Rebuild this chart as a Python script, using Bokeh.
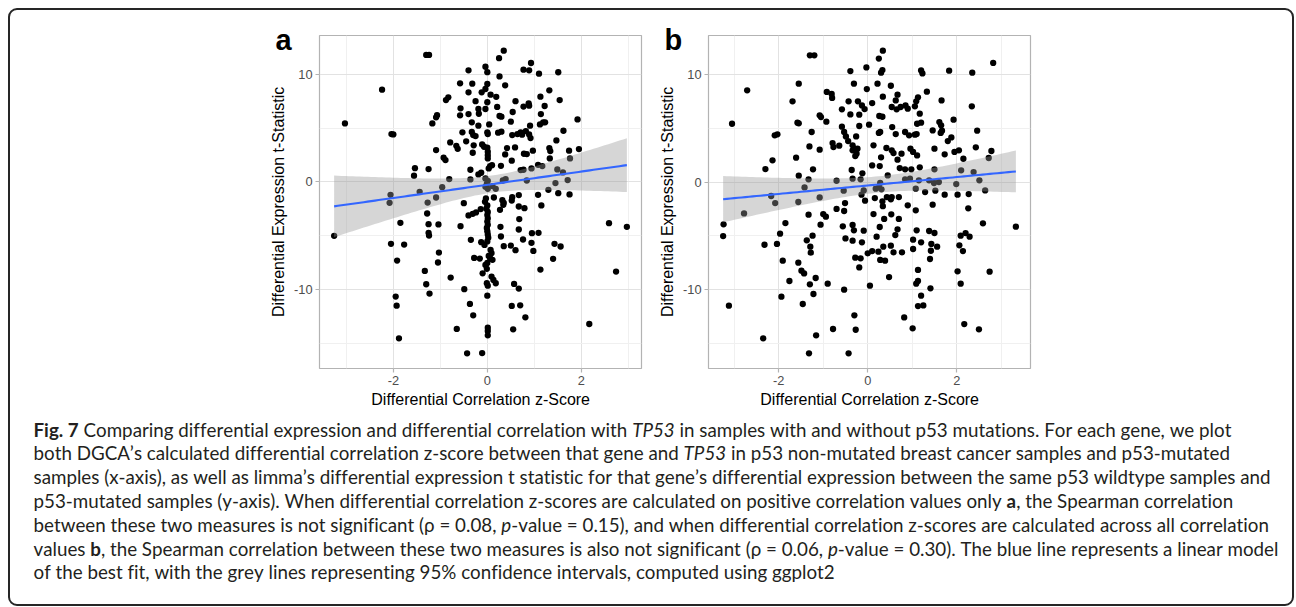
import glob
import os
import struct

import numpy as np
from bokeh.core.properties import value
from bokeh.embed import file_html
from bokeh.layouts import column, row
from bokeh.models import FixedTicker, InlineStyleSheet, Range1d
from bokeh.plotting import figure
from bokeh.resources import INLINE

# ---------------------------------------------------------------- data
# panel a: differential correlation z-score (positive correlations only) vs t statistic
a_points = [
    (-1.30, 11.8), (-1.24, 11.8), (0.35, 12.2), (0.25, 11.5), (0.93, 11.05), (0.77, 10.43), (0.89, 10.37),
    (-0.04, 10.7), (-0.40, 10.37), (0.00, 10.2), (1.10, 10.06), (1.51, 10.19), (0.26, 9.8),
    (-0.58, 9.16), (-0.32, 9.13), (0.00, 9.1), (0.38, 8.97), (-2.24, 8.57), (-0.04, 8.63), (1.32, 8.51),
    (-0.40, 8.32), (-0.12, 8.32), (0.07, 8.1), (0.19, 7.9), (1.13, 7.92), (-0.83, 7.86), (-0.88, 7.6),
    (-0.25, 7.5), (0.00, 7.4), (0.60, 7.5), (0.88, 7.3), (0.77, 7.0), (0.89, 7.08), (1.54, 7.6),
    (-0.57, 6.83), (-0.19, 6.77), (-0.04, 6.77), (0.21, 6.96), (1.22, 7.05), (0.54, 6.49), (-1.07, 6.2),
    (-1.09, 6.0), (-0.58, 6.18), (-0.40, 6.3), (-0.18, 6.33), (0.26, 6.12), (0.30, 6.06), (1.14, 6.3), (1.92, 5.8),
    (-1.17, 5.43), (-3.03, 5.43), (-0.33, 5.53), (-0.19, 5.22), (0.04, 5.34), (0.50, 5.59), (0.91, 5.22),
    (1.12, 5.34), (1.19, 5.53), (1.23, 5.53),
    (-2.04, 4.44), (-2.00, 4.41), (-0.53, 4.6), (-0.33, 4.63), (-0.30, 4.35), (-0.25, 4.25), (0.00, 4.6),
    (0.01, 4.44), (0.23, 4.57), (0.30, 4.66), (0.53, 4.35), (0.64, 4.44), (0.71, 4.6), (0.74, 4.38),
    (0.82, 4.72), (0.89, 4.41), (1.62, 4.75), (0.92, 4.07), (1.47, 3.85),
    (-0.79, 3.66), (-0.45, 3.76), (-0.29, 3.39), (-0.66, 3.35), (-0.63, 3.07), (-0.11, 3.48), (-0.07, 3.26),
    (-1.09, 2.95), (-0.31, 2.70), (0.00, 3.17), (0.01, 2.8), (0.01, 2.48), (0.01, 2.17), (0.42, 3.14),
    (0.59, 3.2), (0.38, 2.55), (0.78, 2.61), (0.84, 2.58), (0.97, 2.89), (1.32, 3.14), (1.34, 2.86),
    (1.74, 2.89), (1.95, 3.04),
    (-0.93, 2.24), (-0.89, 2.02), (0.52, 1.96), (1.33, 2.17), (1.76, 2.17), (0.10, 1.55), (0.03, 1.24),
    (0.06, 1.46), (0.29, 1.49), (0.77, 1.12), (0.71, 1.09), (0.94, 1.24), (1.08, 1.58), (1.17, 1.46),
    (-1.54, 1.27), (-1.56, 0.56), (-1.25, 1.18), (-0.36, 1.12), (-0.19, 0.68), (-0.13, 0.84), (1.49, 1.15), (1.61, 0.87),
    (-0.81, 0.25), (-0.36, 0.22), (-0.04, 0.31), (0.01, 0.09), (0.33, 0.12), (0.39, 0.25), (0.84, 0.12),
    (1.71, 0.16), (1.45, -0.12), (-0.96, -0.50), (-0.01, -0.19), (-0.04, -0.47), (0.01, -0.65), (0.11, -0.40),
    (0.18, -0.65), (-1.44, -0.93), (-2.06, -1.21), (-1.09, -1.46), (-0.50, -1.99), (-0.03, -1.55),
    (-0.05, -1.86), (0.14, -1.46), (0.32, -1.71), (0.35, -1.96), (0.53, -1.43), (0.52, -1.74), (0.67, -1.24),
    (1.08, -1.21), (1.30, -0.75), (1.51, -1.06), (1.75, -1.18), (-2.08, -1.96), (-1.27, -1.93),
    (0.00, -2.2), (-0.02, -2.5), (0.01, -2.8), (0.00, -3.1), (0.01, -3.4), (0.00, -3.7), (0.01, -4.0),
    (-0.01, -4.3), (0.00, -4.6), (0.01, -4.9), (0.02, -5.2), (0.00, -5.55), (0.03, -6.9), (0.00, -7.55),
    (0.34, -2.14), (0.27, -2.61), (0.67, -2.3), (0.79, -2.45), (1.15, -2.2), (-0.14, -2.54), (-0.40, -3.13),
    (-0.31, -2.98), (-0.24, -2.85), (-1.28, -2.95), (-1.85, -3.82), (-1.25, -3.94), (-1.04, -3.97),
    (-0.57, -4.13), (0.28, -4.19), (0.68, -3.47), (0.67, -4.44), (2.59, -3.85), (2.97, -4.19), (-3.26, -5.03),
    (-1.25, -4.75), (-1.24, -5.0), (-0.35, -5.40), (0.29, -5.09), (0.76, -5.37), (0.95, -4.78), (1.09, -4.75),
    (0.94, -5.68), (-2.05, -5.77), (-1.77, -5.84), (-0.13, -5.62), (-0.06, -5.87), (0.35, -5.99), (0.50, -5.93),
    (0.60, -6.36), (0.98, -6.43), (1.43, -5.77), (1.56, -6.02), (-1.03, -6.58), (0.07, -6.33), (0.09, -6.64),
    (-1.92, -7.33), (-1.05, -7.51), (-0.28, -7.08), (-0.16, -7.14), (0.06, -7.11), (0.11, -7.26), (1.40, -7.17),
    (-1.33, -8.29), (1.13, -8.17), (2.74, -8.35), (-0.78, -8.91), (-0.10, -8.51), (-0.01, -8.1), (-0.04, -7.73),
    (0.09, -8.82), (0.13, -9.13), (0.18, -9.44), (-0.01, -9.44), (0.01, -9.66), (0.57, -9.5), (0.67, -9.93),
    (-1.30, -9.53), (-0.49, -9.99), (-1.23, -10.4), (0.00, -10.59), (-1.95, -10.68), (-1.93, -11.52),
    (-0.37, -11.36), (0.52, -11.55), (0.70, -11.49), (-0.30, -12.42), (0.81, -12.61), (2.17, -13.23),
    (-0.65, -13.69), (0.01, -13.57), (0.01, -13.88), (0.01, -14.28), (0.55, -13.72), (-1.88, -14.56),
    (-0.43, -15.96), (-0.11, -15.93),
]

# panel b: differential correlation z-score (all correlations) vs t statistic
b_points = [
    (-1.30, 11.8), (-1.20, 11.8), (0.34, 12.24), (0.25, 11.5), (2.82, 11.09), (-0.39, 10.34), (-0.03, 10.68),
    (0.30, 10.19), (0.33, 10.43), (1.20, 10.4), (1.23, 10.12), (1.83, 10.37), (2.35, 10.19),
    (-1.55, 9.16), (-0.31, 9.16), (0.22, 9.16), (0.52, 8.97), (-2.71, 8.54), (-0.02, 8.66), (1.33, 8.42),
    (-0.92, 8.39), (-0.81, 8.2), (-0.80, 7.83), (0.34, 7.95), (0.67, 8.14), (1.13, 7.89), (1.09, 7.52),
    (-1.69, 7.52), (-0.43, 7.52), (-0.22, 7.52), (-0.13, 7.14), (0.10, 7.36), (0.54, 6.99), (0.63, 7.6),
    (0.65, 6.77), (0.74, 6.99), (0.85, 7.14), (0.90, 6.83), (1.06, 7.05), (1.66, 7.6), (2.34, 7.05),
    (-0.58, 6.77), (-0.39, 6.3), (-0.19, 6.27), (-0.07, 6.8), (-1.08, 6.21), (-1.05, 6.05), (0.26, 6.15),
    (0.33, 6.08), (1.17, 6.37), (-0.93, 5.62), (-3.05, 5.43), (-1.58, 5.53), (-1.55, 5.47), (-0.58, 5.16),
    (-0.19, 5.22), (0.03, 5.34), (0.55, 5.12), (1.11, 5.43), (1.20, 5.53), (1.61, 5.59), (1.65, 5.28), (1.93, 5.81),
    (-1.26, 4.66), (-0.53, 4.66), (-0.49, 4.25), (0.25, 4.57), (0.28, 4.66), (0.63, 4.47), (0.84, 4.66),
    (0.93, 4.35), (1.06, 4.41), (1.10, 4.47), (1.46, 4.81), (1.64, 4.57), (1.67, 4.78), (2.46, 4.78),
    (-2.09, 4.35), (-2.03, 4.44), (-0.26, 4.25), (-0.44, 3.82), (1.80, 3.82), (1.88, 4.16),
    (-1.31, 3.32), (-0.79, 3.63), (-0.77, 3.26), (-0.64, 3.39), (-0.34, 3.42), (-0.30, 3.11), (-0.25, 2.64),
    (-0.34, 2.95), (-0.23, 3.11), (-0.28, 2.42), (0.13, 3.42), (0.42, 3.17), (0.54, 2.95), (0.58, 2.7),
    (0.76, 2.64), (0.96, 3.11), (1.02, 2.8), (1.11, 2.48), (1.50, 3.11), (1.73, 2.58), (1.95, 2.8),
    (2.05, 2.95), (2.43, 3.23), (2.78, 2.89), (-1.08, 3.01),
    (-2.14, 2.02), (-1.61, 2.27), (0.30, 2.30), (0.27, 1.49), (0.67, 2.08), (0.72, 1.30), (0.84, 1.18),
    (0.98, 1.18), (1.17, 1.37), (0.10, 1.55), (2.15, 2.17), (2.72, 2.24), (-2.30, 1.21), (-1.23, 1.18),
    (-0.36, 1.12), (-0.12, 0.81), (-1.55, 0.59), (1.50, 1.18), (2.10, 1.09), (2.38, 0.93), (0.45, 0.62),
    (-1.33, 0.25), (-0.70, 0.12), (-0.34, 0.31), (-0.16, 0.25), (0.28, -0.09), (0.25, -0.5), (0.18, -0.62),
    (0.31, -0.68), (0.84, 0.25), (0.95, 0.31), (1.15, 0.16), (1.38, 0.16), (1.49, -0.09), (1.60, 0.0),
    (1.99, -0.19), (2.51, 0.16), (-1.42, -0.5), (-0.54, -0.81), (-0.09, -0.78), (1.08, -0.62), (1.29, -0.93),
    (1.52, -0.81), (1.73, -1.18), (2.02, -1.18), (2.27, -1.12), (2.64, -0.78), (-2.17, -1.3), (-1.08, -1.43),
    (-0.14, -1.18), (-0.06, -1.74), (0.16, -1.49), (0.33, -1.80), (0.43, -1.40), (0.52, -1.61), (0.54, -1.40),
    (0.70, -1.40), (-2.08, -1.96), (-1.56, -1.86), (-0.51, -1.96), (0.90, -2.17), (1.46, -2.11),
    (0.34, -2.25), (1.08, -2.64), (2.26, -2.45), (-2.78, -2.92), (-1.33, -3.04), (-1.00, -2.98), (-0.94, -3.23),
    (-0.70, -2.51), (-0.53, -2.7), (0.13, -2.98), (0.53, -3.01), (0.37, -3.44), (0.70, -3.44), (-1.85, -3.82),
    (-1.06, -3.97), (-3.24, -3.94), (-0.56, -4.13), (-0.34, -4.0), (-0.31, -4.5), (-0.09, -4.53), (0.27, -4.19),
    (0.67, -4.41), (0.62, -4.94), (1.10, -4.5), (1.38, -4.56), (1.50, -4.75), (2.59, -3.85), (3.33, -4.16),
    (-3.25, -5.03), (-1.97, -4.81), (-1.24, -5.0), (-1.37, -5.43), (-1.29, -6.02), (-1.28, -6.58), (-0.50, -5.25),
    (-0.34, -5.46), (-0.13, -5.62), (0.20, -5.09), (1.02, -5.37), (1.20, -5.62), (1.02, -6.24), (1.43, -5.77),
    (1.56, -6.02), (1.42, -6.40), (2.09, -5.0), (2.20, -4.75), (2.29, -5.09), (2.06, -5.9), (2.14, -6.43),
    (-2.32, -5.84), (-2.04, -5.77), (0.35, -6.02), (0.52, -5.93), (0.00, -6.64), (0.10, -6.43), (0.24, -6.49),
    (0.58, -6.55), (0.77, -6.55), (-0.28, -7.05), (-0.16, -7.11), (-0.19, -7.95), (0.28, -7.26), (0.39, -7.33),
    (-1.91, -7.33), (-1.56, -7.51), (-1.49, -8.26), (-1.43, -8.51), (1.40, -7.17), (1.13, -8.19), (2.02, -8.32),
    (2.74, -8.35), (-1.76, -9.22), (-1.30, -9.53), (-1.17, -8.94), (-1.22, -10.43), (-0.90, -9.47), (0.48, -8.85),
    (-0.53, -10.03), (0.05, -9.66), (1.09, -9.47), (1.13, -9.22), (1.41, -9.9), (2.09, -9.47), (-1.94, -10.68),
    (-3.12, -11.52), (-1.46, -11.36), (1.20, -10.59), (1.13, -11.55), (1.25, -11.49), (-0.30, -12.42),
    (0.82, -12.61), (2.17, -13.23), (-0.78, -13.69), (-0.27, -13.76), (1.01, -13.63), (2.50, -13.72),
    (-2.35, -14.56), (-1.16, -14.28), (-1.32, -15.96), (-0.43, -15.96),
]

a_x = [p[0] for p in a_points]
a_y = [p[1] for p in a_points]
b_x = [p[0] for p in b_points]
b_y = [p[1] for p in b_points]

x_ticks = [-2, 0, 2]
x_tick_labels = ["-2", "0", "2"]
x_minor = [-3, -1, 1, 3]
y_ticks = [-10, 0, 10]
y_tick_labels = ["-10", "0", "10"]
y_minor = [-15, -5, 5]
panel_labels = ["a", "b"]
x_title = "Differential Correlation z-Score"
y_title = "Differential Expression t-Statistic"

caption_lines = [
    [("Fig. 7", "bold"), (" Comparing differential expression and differential correlation with ", "normal"),
     ("TP53", "italic"), (" in samples with and without p53 mutations. For each gene, we plot", "normal")],
    [("both DGCA\u2019s calculated differential correlation z-score between that gene and ", "normal"),
     ("TP53", "italic"), (" in p53 non-mutated breast cancer samples and p53-mutated", "normal")],
    [("samples (x-axis), as well as limma\u2019s differential expression t statistic for that gene\u2019s "
      "differential expression between the same p53 wildtype samples and", "normal")],
    [("p53-mutated samples (y-axis). When differential correlation z-scores are calculated on positive "
      "correlation values only ", "normal"), ("a", "bold"), (", the Spearman correlation", "normal")],
    [("between these two measures is not significant (\u03c1 = 0.08, ", "normal"), ("p", "italic"),
     ("-value = 0.15), and when differential correlation z-scores are calculated across all correlation", "normal")],
    [("values ", "normal"), ("b", "bold"),
     (", the Spearman correlation between these two measures is also not significant (\u03c1 = 0.06, ", "normal"),
     ("p", "italic"), ("-value = 0.30). The blue line represents a linear model", "normal")],
    [("of the best fit, with the grey lines representing 95% confidence intervals, computed using ggplot2", "normal")],
]

# ---------------------------------------------------------------- font metrics (for caption flow)
def find_font(names):
    roots = ["/usr/share/fonts", "/usr/local/share/fonts",
             os.path.expanduser("~/.fonts"), os.path.expanduser("~/.local/share/fonts")]
    for n in names:
        for r in roots:
            hits = glob.glob(os.path.join(r, "**", n), recursive=True)
            if hits:
                return hits[0]
    return None


class Metrics:
    def __init__(self, path):
        self.ok = False
        self.fallback = 0.48
        if path is None:
            return
        try:
            data = open(path, "rb").read()
            self.data = data
            num = struct.unpack(">H", data[4:6])[0]
            tables = {}
            for i in range(num):
                tag, _, off, _ln = struct.unpack(">4sIII", data[12 + 16 * i:28 + 16 * i])
                tables[tag] = off
            head = tables[b"head"]
            self.upem = struct.unpack(">H", data[head + 18:head + 20])[0]
            hhea = tables[b"hhea"]
            nhm = struct.unpack(">H", data[hhea + 34:hhea + 36])[0]
            hmtx = tables[b"hmtx"]
            self.adv = struct.unpack(">%dH" % (2 * nhm), data[hmtx:hmtx + 4 * nhm])[0::2]
            co = tables[b"cmap"]
            n = struct.unpack(">H", data[co + 2:co + 4])[0]
            best = None
            for i in range(n):
                pid, eid, off = struct.unpack(">HHI", data[co + 4 + 8 * i:co + 12 + 8 * i])
                fmt = struct.unpack(">H", data[co + off:co + off + 2])[0]
                if fmt == 4:
                    best = co + off
                    if pid == 3:
                        break
            st = best
            segx2 = struct.unpack(">H", data[st + 6:st + 8])[0]
            seg = segx2 // 2
            self.ends = struct.unpack(">%dH" % seg, data[st + 14:st + 14 + segx2])
            self.starts = struct.unpack(">%dH" % seg, data[st + 16 + segx2:st + 16 + 2 * segx2])
            self.deltas = struct.unpack(">%dh" % seg, data[st + 16 + 2 * segx2:st + 16 + 3 * segx2])
            self.rpos = st + 16 + 3 * segx2
            self.roffs = struct.unpack(">%dH" % seg, data[self.rpos:self.rpos + segx2])
            self.ok = True
        except Exception:
            self.ok = False

    def glyph(self, c):
        for s in range(len(self.ends)):
            if c <= self.ends[s]:
                if c < self.starts[s]:
                    return 0
                if self.roffs[s] == 0:
                    return (c + self.deltas[s]) & 0xFFFF
                addr = self.rpos + 2 * s + self.roffs[s] + 2 * (c - self.starts[s])
                g = struct.unpack(">H", self.data[addr:addr + 2])[0]
                return (g + self.deltas[s]) & 0xFFFF if g else 0
        return 0

    def width(self, text, size):
        if not self.ok:
            return len(text) * size * self.fallback
        tot = 0
        for ch in text:
            g = self.glyph(ord(ch))
            tot += self.adv[min(g, len(self.adv) - 1)]
        return tot * size / self.upem


CAP_FONT = "Lato"
metrics = {
    "normal": Metrics(find_font(["Lato-Regular.ttf"])),
    "bold": Metrics(find_font(["Lato-Bold.ttf"])),
    "italic": Metrics(find_font(["Lato-Italic.ttf"])),
}
for k in ("bold", "italic"):
    if not metrics[k].ok:
        metrics[k] = metrics["normal"]

# ---------------------------------------------------------------- regression band (as geom_smooth lm)
def lm_band(x, y, n=80):
    x = np.asarray(x, float)
    y = np.asarray(y, float)
    nobs = len(x)
    xm, ym = x.mean(), y.mean()
    sxx = ((x - xm) ** 2).sum()
    b1 = ((x - xm) * (y - ym)).sum() / sxx
    b0 = ym - b1 * xm
    s = np.sqrt(((y - b0 - b1 * x) ** 2).sum() / (nobs - 2))
    z = 1.959964
    t = z + (z ** 3 + z) / (4 * (nobs - 2))
    xs = np.linspace(x.min(), x.max(), n)
    fit = b0 + b1 * xs
    se = s * np.sqrt(1.0 / nobs + (xs - xm) ** 2 / sxx)
    return xs, fit, fit - t * se, fit + t * se


def padded(v):
    lo, hi = min(v), max(v)
    d = (hi - lo) * 0.05
    return lo - d, hi + d


AX_FONT = "Liberation Sans"
ROW_H = 416
FRAME_TOP = 35
FRAME_BOTTOM = 368


def make_panel(xs, ys, label, width, mb_left, mb_right):
    x0, x1 = padded(xs)
    y0, y1 = padded(ys)
    p = figure(width=width, height=ROW_H, output_backend="svg", toolbar_location=None,
               x_range=Range1d(x0, x1), y_range=Range1d(y0, y1),
               min_border_left=mb_left, min_border_right=mb_right,
               min_border_top=FRAME_TOP, min_border_bottom=ROW_H - FRAME_BOTTOM,
               background_fill_color="white", border_fill_color=None,
               outline_line_color="#B3B3B3", outline_line_width=1.2)
    xt = FixedTicker(ticks=x_ticks, minor_ticks=x_minor)
    yt = FixedTicker(ticks=y_ticks, minor_ticks=y_minor)
    p.xaxis.ticker = xt
    p.yaxis.ticker = yt
    p.xgrid.ticker = xt
    p.ygrid.ticker = yt
    p.xaxis.major_label_overrides = dict(zip(x_ticks, x_tick_labels))
    p.yaxis.major_label_overrides = dict(zip(y_ticks, y_tick_labels))
    for g in (p.xgrid, p.ygrid):
        g.grid_line_color = "#E2E2E2"
        g.grid_line_width = 1
        g.minor_grid_line_color = "#F0F0F0"
        g.minor_grid_line_width = 1
    for ax in (p.xaxis, p.yaxis):
        ax.axis_line_color = None
        ax.major_tick_line_color = "#B3B3B3"
        ax.major_tick_line_width = 1.2
        ax.major_tick_out = 4
        ax.major_tick_in = 0
        ax.minor_tick_line_color = None
        ax.major_label_text_font = AX_FONT
        ax.major_label_text_font_size = "12.8px"
        ax.major_label_text_color = "#4D4D4D"
        ax.major_label_standoff = 3
        ax.axis_label_text_font = AX_FONT
        ax.axis_label_text_font_size = "16px"
        ax.axis_label_text_font_style = "normal"
        ax.axis_label_text_color = "#000000"
    p.xaxis.axis_label = x_title
    p.yaxis.axis_label = y_title
    p.xaxis.axis_label_standoff = 3
    p.yaxis.axis_label_standoff = 4
    p.yaxis.major_label_orientation = "horizontal"

    # panel letter as the plot title (side-panel text is not clipped to the frame)
    p.title.text = label
    p.title.align = "left"
    p.title.offset = -44
    p.title.vertical_align = "bottom"
    p.title.standoff = -40
    p.title.text_font = AX_FONT
    p.title.text_font_size = "29px"
    p.title.text_font_style = "bold"
    p.title.text_color = "black"

    p.scatter(xs, ys, size=6.3, color="black", line_color=None)
    sx, fit, lo, hi = lm_band(xs, ys)
    p.varea(x=sx, y1=lo, y2=hi, fill_color="#999999", fill_alpha=0.4)
    p.line(sx, fit, line_color="#3366FF", line_width=2.1)
    return p


fa = make_panel(a_x, a_y, panel_labels[0], 648, 319, 7)
fb = make_panel(b_x, b_y, panel_labels[1], 648, 60, 266)

# ---------------------------------------------------------------- caption
CAP_H = 607 - ROW_H
fc = figure(width=1296, height=CAP_H, output_backend="svg", toolbar_location=None,
            x_range=Range1d(0, 1296), y_range=Range1d(607, ROW_H),
            x_axis_location=None, y_axis_location=None, min_border=0,
            background_fill_color=None, border_fill_color=None, outline_line_color=None)
fc.xgrid.visible = False
fc.ygrid.visible = False

CAP_LEFT = 33
CAP_RIGHT = 1278
longest = caption_lines[5]
w1 = sum(metrics[st].width(t, 1.0) for t, st in longest)
cap_size = min(19.0, max(14.0, (CAP_RIGHT - CAP_LEFT) / w1))
base0, step = 428.5, 23.8

groups = {"normal": ([], [], []), "bold": ([], [], []), "italic": ([], [], [])}
for i, segs in enumerate(caption_lines):
    cur = CAP_LEFT
    yb = base0 + i * step
    for txt, st in segs:
        lead = len(txt) - len(txt.lstrip(" "))
        core = txt.strip(" ")
        xs_ = cur + metrics[st].width(" " * lead, cap_size)
        groups[st][0].append(xs_)
        groups[st][1].append(yb)
        groups[st][2].append(core)
        cur += metrics[st].width(txt, cap_size)

for st, (gx, gy, gt) in groups.items():
    if gt:
        fc.text(x=gx, y=gy, text=gt, text_font=value(CAP_FONT), text_font_style=st,
                text_font_size="%.2fpx" % cap_size, text_color="#231F20",
                text_baseline="alphabetic", text_align="left")

frame_css = InlineStyleSheet(css="""
:host {
  position: relative;
  font-kerning: none;
  font-variant-ligatures: none;
  font-feature-settings: "kern" 0, "liga" 0, "clig" 0;
}
:host::after {
  content: "";
  position: absolute;
  left: 8px; top: 8px; width: 1286px; height: 598px;
  box-sizing: border-box;
  border: 2px solid #262626;
  border-radius: 9px;
  pointer-events: none;
}
""")

layout = column(row(fa, fb), fc, stylesheets=[frame_css])

open("out.html", "w").write(file_html(layout, INLINE))
